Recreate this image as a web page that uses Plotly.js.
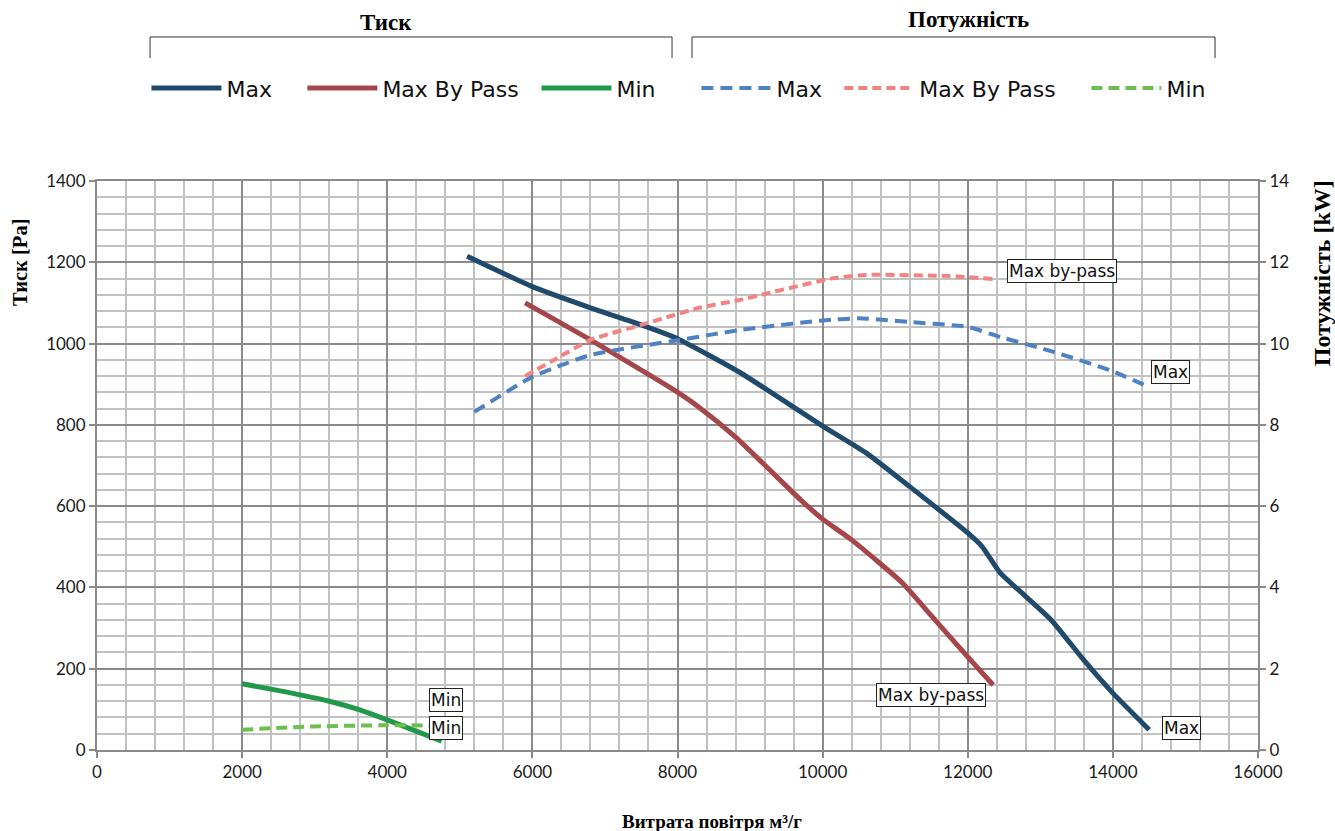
<!DOCTYPE html>
<html>
<head>
<meta charset="utf-8">
<script src="https://cdn.plot.ly/plotly-3.0.1.min.js"></script>
<style>html,body{margin:0;padding:0;background:#fff;}#chart{width:1335px;height:831px;}</style>
</head>
<body>
<div id="chart"></div>
<script>
// ---- Data (air flow m3/h) ----
const flowMaxP = [5100, 6000, 6800, 7500, 8000, 8850, 10000, 10600, 11200, 12000, 12200, 12450, 12700, 13150, 13600, 14000, 14500];
const presMax  = [1215, 1140, 1088, 1046, 1012, 930, 797, 731, 648, 534, 500, 435, 394, 320, 221, 140, 50];

const flowBypassP = [5900, 6800, 7950, 8300, 8800, 9700, 10000, 10400, 11100, 11500, 12000, 12350];
const presBypass  = [1100, 1009, 886, 843, 770, 615, 568, 517, 411, 330, 229, 160];

const flowMinP = [2000, 2600, 3200, 3600, 4000, 4750];
const presMin  = [163, 143, 120, 100, 74, 22];

const flowMaxW = [5200, 6000, 6800, 8000, 8850, 10000, 10500, 11200, 12000, 12450, 13100, 13950, 14500];
const powMax   = [8.32, 9.18, 9.72, 10.08, 10.33, 10.57, 10.62, 10.53, 10.41, 10.16, 9.84, 9.35, 8.93];

const flowBypassW = [5900, 6350, 6800, 7500, 8300, 8850, 9250, 10150, 10600, 11750, 12350];
const powBypass   = [9.2, 9.65, 10.09, 10.46, 10.88, 11.07, 11.24, 11.61, 11.69, 11.66, 11.59];

const flowMinW = [2000, 3000, 4000, 4650];
const powMin   = [0.5, 0.58, 0.61, 0.6];

const seriesNames = ["Max", "Max By Pass", "Min"];
const pointLabels = ["Max", "Max by-pass", "Min"];
const groupTitles = ["Тиск", "Потужність"];
const xTitle = "Витрата повітря м³/г";
const yTitle = "Тиск [Pa]";
const y2Title = "Потужність [kW]";

// ---- Styles ----
const cNavy = '#1f4a6c', cRed = '#a5474a', cGreen = '#22984a';
const cBlue = '#4f82c4', cPink = '#f28383', cLGreen = '#6cbf4c';
const sansFont = '"DejaVu Sans", Lato, sans-serif';
const tickFont = {family: 'Lato, "DejaVu Sans", sans-serif', size: 17, color: '#1a1a1a'};
const serifBold = 'Liberation Serif, "Times New Roman", serif';

function solid(x, y, name, color, legend) {
  return {x, y, name, type: 'scatter', mode: 'lines', legend,
    line: {color, width: 5, shape: 'spline', smoothing: 0.5}, hoverinfo: 'x+y'};
}
function dashed(x, y, name, color, dash, legend) {
  return {x, y, name, type: 'scatter', mode: 'lines', yaxis: 'y2', legend,
    line: {color, width: 4, dash, shape: 'spline', smoothing: 0.5}, hoverinfo: 'x+y'};
}

const traces = [
  solid(flowMaxP, presMax, seriesNames[0], cNavy, 'legend'),
  solid(flowBypassP, presBypass, seriesNames[1], cRed, 'legend2'),
  solid(flowMinP, presMin, seriesNames[2], cGreen, 'legend3'),
  dashed(flowMaxW, powMax, seriesNames[0], cBlue, '12px,7px', 'legend4'),
  dashed(flowBypassW, powBypass, seriesNames[1], cPink, '9px,5px', 'legend5'),
  dashed(flowMinW, powMin, seriesNames[2], cLGreen, '11px,6px', 'legend6')
];

function last(a) { return a[a.length - 1]; }
const labelFont = {family: sansFont, size: 17, color: '#111'};
function lbl(x, y, text, yref, xanchor, xshift, yshift) {
  return {x, y, xref: 'x', yref, text, showarrow: false, xanchor, yanchor: 'middle',
    xshift, yshift, font: labelFont, bgcolor: '#fff', bordercolor: '#222', borderwidth: 1, borderpad: 1};
}
function paperText(x, y, text, size, angle) {
  return {xref: 'paper', yref: 'paper', x, y, text: '<b>' + text + '</b>', showarrow: false,
    xanchor: 'center', yanchor: 'middle', textangle: angle || 0,
    font: {family: serifBold, size, color: '#000'}};
}

const annotations = [
  lbl(last(flowMaxP), last(presMax), pointLabels[0], 'y', 'left', 13, 2),
  lbl(last(flowBypassP), last(presBypass), pointLabels[1], 'y', 'right', -7, -10),
  lbl(last(flowMinP), last(presMin), pointLabels[2], 'y', 'left', -13, 41),
  lbl(last(flowMaxW), last(powMax), pointLabels[0], 'y2', 'left', 2, 15),
  lbl(last(flowBypassW), last(powBypass), pointLabels[1], 'y2', 'left', 14, 8),
  lbl(last(flowMinW), last(powMin), pointLabels[2], 'y2', 'left', -5, -2),
  paperText(0.249, 1.279, groupTitles[0], 23),
  paperText(0.751, 1.283, groupTitles[1], 23),
  paperText(-0.0663, 0.856, yTitle, 20.5, -90),
  paperText(1.0551, 0.838, y2Title, 24, -90),
  paperText(0.5297, -0.1248, xTitle, 19)
];

function bracket(x0, x1) {
  return {type: 'path', xref: 'paper', yref: 'paper',
    path: `M ${x0},1.2162 L ${x0},1.2531 L ${x1},1.2531 L ${x1},1.2162`,
    line: {color: '#333', width: 1}};
}

const gridMajor = '#8a8a8a', gridMinor = '#c2c2c2';
function leg(x) {
  return {orientation: 'h', yanchor: 'middle', y: 1.163, xanchor: 'left', x,
    font: {family: sansFont, size: 22, color: '#111'},
    itemwidth: 70, bgcolor: 'rgba(0,0,0,0)', itemclick: false, itemdoubleclick: false};
}

const layout = {
  width: 1335, height: 831,
  margin: {l: 97, r: 77, t: 181, b: 81},
  paper_bgcolor: '#fff', plot_bgcolor: '#fff',
  showlegend: true,
  legend: leg(0.0426), legend2: leg(0.1769), legend3: leg(0.3785),
  legend4: leg(0.5163), legend5: leg(0.6394), legend6: leg(0.8522),
  xaxis: {range: [0, 16000], dtick: 2000, tick0: 0, tickformat: 'd', showgrid: true, gridcolor: gridMajor, gridwidth: 2,
    minor: {dtick: 400, showgrid: true, gridcolor: gridMinor, gridwidth: 2},
    showline: true, linecolor: gridMajor, linewidth: 2, mirror: true,
    ticks: 'outside', ticklen: 6, tickwidth: 2, tickcolor: gridMajor,
    tickfont: tickFont, zeroline: false, fixedrange: true},
  yaxis: {range: [0, 1400], dtick: 200, tick0: 0, tickformat: 'd', showgrid: true, gridcolor: gridMajor, gridwidth: 2,
    minor: {dtick: 40, showgrid: true, gridcolor: gridMinor, gridwidth: 2},
    showline: true, linecolor: gridMajor, linewidth: 2, mirror: true,
    ticks: 'outside', ticklen: 6, tickwidth: 2, tickcolor: gridMajor,
    tickfont: tickFont, zeroline: false, fixedrange: true},
  yaxis2: {range: [0, 14], dtick: 2, tick0: 0, overlaying: 'y', side: 'right', showgrid: false,
    showline: true, linecolor: gridMajor, linewidth: 2,
    ticks: 'outside', ticklen: 6, tickwidth: 2, tickcolor: gridMajor,
    tickfont: tickFont, zeroline: false, fixedrange: true},
  annotations,
  shapes: [bracket(0.0457, 0.4953), bracket(0.5125, 0.963)]
};

Plotly.newPlot('chart', traces, layout, {displayModeBar: false});
</script>
</body>
</html>
